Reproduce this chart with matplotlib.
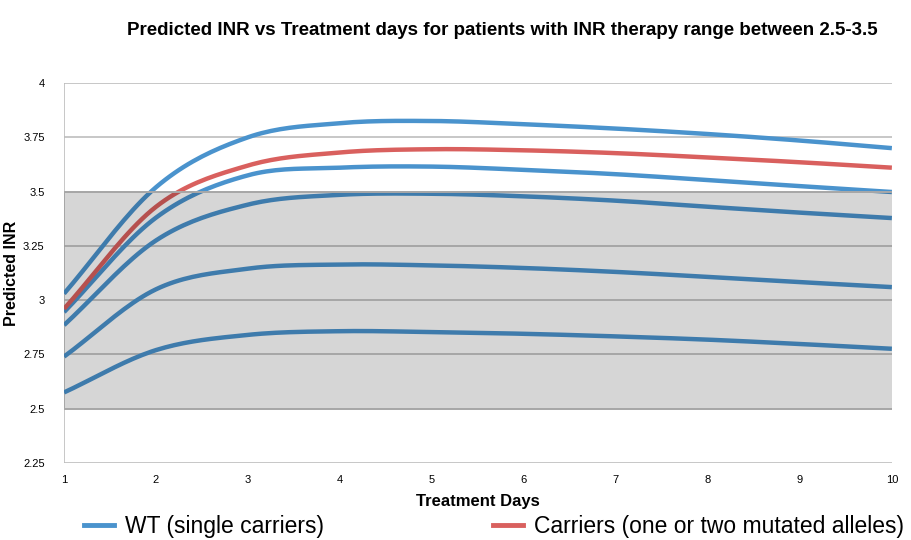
import matplotlib
matplotlib.use("Agg")
import matplotlib.pyplot as plt
import numpy as np

plt.rcParams["font.family"] = ["Liberation Sans", "DejaVu Sans"]

days = [1, 2, 3, 4, 5, 6, 7, 8, 9, 10]

wt_high = [3.03, 3.52, 3.75, 3.815, 3.825, 3.81, 3.79, 3.765, 3.735, 3.70]
wt_mid_high = [2.945, 3.38, 3.575, 3.61, 3.615, 3.60, 3.58, 3.553, 3.525, 3.498]
wt_mid = [2.885, 3.275, 3.44, 3.485, 3.49, 3.478, 3.458, 3.43, 3.403, 3.378]
wt_mid_low = [2.74, 3.05, 3.145, 3.164, 3.16, 3.148, 3.13, 3.107, 3.083, 3.06]
wt_low = [2.575, 2.77, 2.84, 2.857, 2.853, 2.845, 2.833, 2.818, 2.798, 2.776]
carriers = [2.96, 3.43, 3.62, 3.68, 3.695, 3.69, 3.677, 3.657, 3.635, 3.61]

therapy_range = (2.5, 3.5)
y_ticks = [2.25, 2.5, 2.75, 3, 3.25, 3.5, 3.75, 4]
y_tick_labels = ["2.25", "2.5", "2.75", "3", "3.25", "3.5", "3.75", "4"]

BLUE = "#4a93cd"
RED = "#d9605e"


def smooth(xs, ys, n=20):
    # Catmull-Rom curve through the points, like a spreadsheet "smoothed line"
    xs = np.asarray(xs, float)
    ys = np.asarray(ys, float)
    px = np.concatenate(([2 * xs[0] - xs[1]], xs, [2 * xs[-1] - xs[-2]]))
    py = np.concatenate(([2 * ys[0] - ys[1]], ys, [2 * ys[-1] - ys[-2]]))
    out_x, out_y = [], []
    t = np.linspace(0, 1, n, endpoint=False)
    for i in range(1, len(px) - 2):
        for arr, out in ((px, out_x), (py, out_y)):
            p0, p1, p2, p3 = arr[i - 1], arr[i], arr[i + 1], arr[i + 2]
            out.extend(0.5 * (2 * p1 + (-p0 + p2) * t
                              + (2 * p0 - 5 * p1 + 4 * p2 - p3) * t ** 2
                              + (-p0 + 3 * p1 - 3 * p2 + p3) * t ** 3))
    out_x.append(xs[-1])
    out_y.append(ys[-1])
    return np.array(out_x), np.array(out_y)


fig = plt.figure(figsize=(9.11, 5.4), dpi=100)
ax = fig.add_axes([0.0703, 0.1426, 0.9087, 0.7037])

for ys in (wt_high, wt_mid_high, wt_mid, wt_mid_low, wt_low):
    sx, sy = smooth(days, ys)
    ax.plot(sx, sy, color=BLUE, lw=3.2, solid_capstyle="butt", zorder=3)
sx, sy = smooth(days, carriers)
ax.plot(sx, sy, color=RED, lw=3.2, solid_capstyle="butt", zorder=3)

ax.axhspan(therapy_range[0], therapy_range[1], color="black", alpha=0.16, lw=0, zorder=4)

for yv in y_ticks:
    ax.axhline(yv, color="#bdbdbd", lw=1.2, zorder=1)
for yv in therapy_range:
    ax.axhline(yv, color="#a8a8a8", lw=1.4, zorder=5)
ax.axvline(days[0], color="#bdbdbd", lw=1.2, zorder=1)

ax.set_xlim(1, 10)
ax.set_ylim(2.25, 4)
ax.set_xticks(days)
ax.set_yticks(y_ticks)
ax.set_yticklabels(y_tick_labels)
for s in ax.spines.values():
    s.set_visible(False)
ax.tick_params(length=0, labelsize=8)
ax.tick_params(axis="y", pad=14)
ax.tick_params(axis="x", pad=9)

ax.set_xlabel("Treatment Days", fontsize=12, fontweight="bold", labelpad=6)
ax.set_ylabel("Predicted INR", fontsize=11.5, fontweight="bold", labelpad=3)
fig.text(0.551, 0.944, "Predicted INR vs Treatment days for patients with INR therapy range between 2.5-3.5",
         ha="center", va="center", fontsize=13.5, fontweight="bold")

legend_items = [("WT (single carriers)", BLUE, 84), ("Carriers (one or two mutated alleles)", RED, 493)]
for label, color, xpix in legend_items:
    fig.legend([plt.Line2D([], [], color=color, lw=3.5)], [label],
               loc="center left", bbox_to_anchor=(xpix / 911, 1 - 527 / 540),
               frameon=False, fontsize=16.5, borderpad=0, borderaxespad=0,
               handlelength=1.3, handletextpad=0.5)

fig.savefig("out.png", dpi=100)
